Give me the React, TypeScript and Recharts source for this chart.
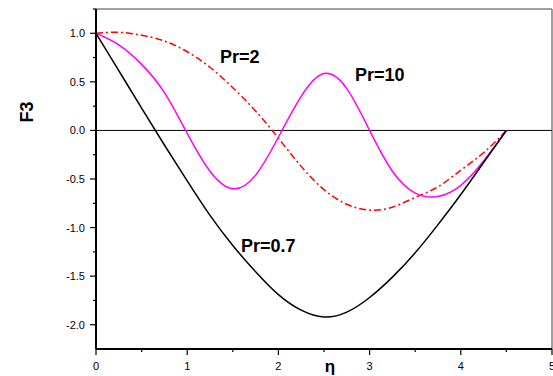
import { LineChart, Line, XAxis, YAxis, ReferenceLine } from "recharts";

const etaValues = [0, 0.25, 0.5, 0.75, 1, 1.25, 1.5, 1.75, 2, 2.25, 2.5, 2.75, 3, 3.25, 3.5, 3.75, 4, 4.25, 4.5];
const f3Pr07 = [1.0, 0.615, 0.23, -0.15, -0.52, -0.875, -1.185, -1.455, -1.69, -1.85, -1.92, -1.87, -1.72, -1.51, -1.26, -0.97, -0.66, -0.33, 0];
const f3Pr2 = [1.0, 1.01, 0.98, 0.92, 0.81, 0.65, 0.44, 0.2, -0.08, -0.37, -0.61, -0.76, -0.82, -0.79, -0.69, -0.58, -0.41, -0.23, 0];
const f3Pr10 = [1.0, 0.88, 0.68, 0.39, -0.03, -0.42, -0.6, -0.46, -0.07, 0.35, 0.585, 0.43, 0.0, -0.42, -0.645, -0.68, -0.565, -0.315, 0];

const xTicks = [0, 0.5, 1, 1.5, 2, 2.5, 3, 3.5, 4, 4.5, 5];
const yTicks = [-2, -1.75, -1.5, -1.25, -1, -0.75, -0.5, -0.25, 0, 0.25, 0.5, 0.75, 1, 1.25];

const rows = etaValues.map((eta, i) => ({
  eta,
  pr07: f3Pr07[i],
  pr2: f3Pr2[i],
  pr10: f3Pr10[i],
}));

const font = "'Liberation Sans', Arial, sans-serif";

function XTick(props: any) {
  const { x, y, payload } = props;
  const v = payload.value;
  const major = Number.isInteger(v);
  return (
    <g>
      <line x1={x} x2={x} y1={y} y2={y + (major ? 6 : 3)} stroke="#000" strokeWidth={1.2} />
      {major && (
        <text x={x} y={y + 21} textAnchor="middle" fontSize={11} fontFamily={font} fill="#000">
          {v}
        </text>
      )}
    </g>
  );
}

function YTick(props: any) {
  const { x, y, payload } = props;
  const v = payload.value;
  const major = Math.abs(v * 2 - Math.round(v * 2)) < 1e-6;
  return (
    <g>
      <line x1={x} x2={x - (major ? 6 : 3)} y1={y} y2={y} stroke="#000" strokeWidth={1.2} />
      {major && (
        <text x={x - 11} y={y + 4} textAnchor="end" fontSize={11} fontFamily={font} fill="#000">
          {v.toFixed(1)}
        </text>
      )}
    </g>
  );
}

export default function App() {
  return (
    <div style={{ position: "absolute", left: 0, top: 0, width: 553, height: 376, background: "#fff" }}>
      <LineChart width={553} height={376} data={rows} margin={{ top: 9, right: 1, bottom: 0, left: 36 }}>
        <XAxis
          dataKey="eta"
          type="number"
          domain={[0, 5]}
          ticks={xTicks}
          interval={0}
          height={27}
          tickSize={0}
          tickMargin={0}
          tickLine={false}
          tick={<XTick />}
          axisLine={{ stroke: "#000", strokeWidth: 2 }}
          allowDataOverflow
        />
        <YAxis
          type="number"
          domain={[-2.25, 1.25]}
          ticks={yTicks}
          interval={0}
          width={60}
          tickSize={0}
          tickMargin={0}
          tickLine={false}
          tick={<YTick />}
          axisLine={{ stroke: "#000", strokeWidth: 2 }}
          allowDataOverflow
        />
        <ReferenceLine y={1.25} stroke="#808080" strokeWidth={1.5} />
        <ReferenceLine x={5} stroke="#808080" strokeWidth={1.5} />
        <ReferenceLine y={0} stroke="#000" strokeWidth={1} />
        <Line type="natural" dataKey="pr2" stroke="#ff0000" strokeWidth={1.5} strokeDasharray="7 3 2 3" dot={false} isAnimationActive={false} />
        <Line type="natural" dataKey="pr10" stroke="#ff00ff" strokeWidth={1.5} dot={false} isAnimationActive={false} />
        <Line type="natural" dataKey="pr07" stroke="#000" strokeWidth={1.5} dot={false} isAnimationActive={false} />
      </LineChart>
      <svg width={553} height={376} style={{ position: "absolute", left: 0, top: 0, pointerEvents: "none" }}>
        <g fontFamily={font} fontWeight="bold" fill="#000">
          <text x={220} y={63} fontSize={18}>Pr=2</text>
          <text x={355} y={81} fontSize={18}>Pr=10</text>
          <text x={241} y={252} fontSize={18}>Pr=0.7</text>
          <text x={330} y={372} fontSize={17} textAnchor="middle">η</text>
          <text x={33} y={112} fontSize={18} textAnchor="middle" transform="rotate(-90 33 112)">F3</text>
        </g>
      </svg>
    </div>
  );
}
